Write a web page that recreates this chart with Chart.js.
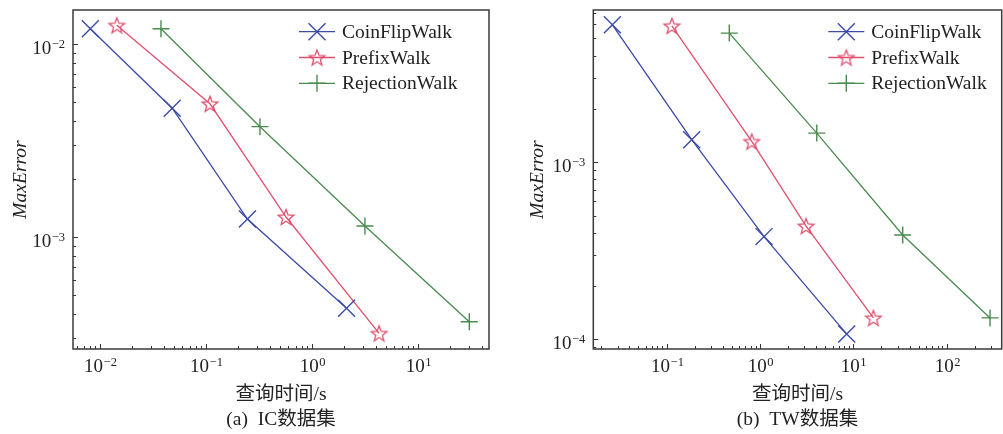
<!DOCTYPE html>
<html>
<head>
<meta charset="utf-8">
<script src="https://cdn.jsdelivr.net/npm/chart.js@4.4.0/dist/chart.umd.min.js"></script>
<style>
  body { margin: 0; background: #fff; }
  .panel { position: absolute; top: 0; height: 434px; }
</style>
</head>
<body>
<div class="panel" style="left:0;width:500px"><canvas id="chartIC"></canvas></div>
<div class="panel" style="left:517px;width:486px"><canvas id="chartTW"></canvas></div>
<script>
// series names
const seriesNames = ["CoinFlipWalk", "PrefixWalk", "RejectionWalk"];

// (a) IC dataset: query time (s) and max error
const icCoinTime = [0.0081, 0.048, 0.246, 2.12];
const icCoinErr = [0.0120, 0.00465, 0.00124, 0.000428];
const icPrefixTime = [0.0144, 0.109, 0.569, 4.3];
const icPrefixErr = [0.0125, 0.0049, 0.00127, 0.000317];
const icRejectTime = [0.0376, 0.323, 3.16, 30.5];
const icRejectErr = [0.0120, 0.00373, 0.00114, 0.000364];

// (b) TW dataset
const twCoinTime = [0.0263, 0.186, 1.107, 8.5];
const twCoinErr = [0.00597, 0.00134, 0.00038, 0.000107];
const twPrefixTime = [0.114, 0.817, 3.12, 16.4];
const twPrefixErr = [0.00589, 0.00131, 0.000436, 0.000132];
const twRejectTime = [0.47, 4.06, 33.8, 291];
const twRejectErr = [0.00536, 0.00146, 0.000388, 0.000132];

// axis ranges
const icXRange = [0.00556, 46.8];
const icYRange = [0.000263, 0.0150];
const twXRange = [0.01644, 388];
const twYRange = [0.0000881, 0.00724];

const SERIF = "'Liberation Serif', 'Times New Roman', 'Noto Sans CJK SC', serif";
const COLORS = ["#3a4ba8", "#e0506e", "#4a8a4e"];

function isPow10(v) {
  const l = Math.log10(v);
  return Math.abs(l - Math.round(l)) < 1e-9;
}

function logTicks(min, max) {
  const out = [];
  for (let e = Math.floor(Math.log10(min)); e <= Math.ceil(Math.log10(max)); e++) {
    for (let m = 1; m <= 9; m++) {
      const v = Number((m * Math.pow(10, e)).toPrecision(12));
      if (v >= min && v <= max) out.push(v);
    }
  }
  return out;
}

// "10" with raised exponent, like mathtext
function drawPowLabel(ctx, v, x, baseY, align) {
  const exp = String(Math.round(Math.log10(v))).replace("-", "\u2212");
  ctx.font = "19px " + SERIF;
  const wBase = ctx.measureText("10").width;
  ctx.font = "12.5px " + SERIF;
  const wExp = ctx.measureText(exp).width;
  const total = wBase + wExp + 0.5;
  const x0 = align === "right" ? x - total : x - total / 2;
  ctx.textAlign = "left";
  ctx.textBaseline = "alphabetic";
  ctx.font = "19px " + SERIF;
  ctx.fillText("10", x0, baseY);
  ctx.font = "12.5px " + SERIF;
  ctx.fillText(exp, x0 + wBase + 0.5, baseY - 6);
}

// star marker image (hollow)
function starImage(color) {
  const c = document.createElement("canvas");
  c.width = 22; c.height = 22;
  const ctx = c.getContext("2d");
  const R = 8.2, r = 3.5;
  ctx.beginPath();
  for (let i = 0; i < 10; i++) {
    const rad = (i % 2 === 0 ? R : r);
    const a = -Math.PI / 2 + i * Math.PI / 5;
    const px = 11 + rad * Math.cos(a), py = 11.8 + rad * Math.sin(a);
    i === 0 ? ctx.moveTo(px, py) : ctx.lineTo(px, py);
  }
  ctx.closePath();
  ctx.strokeStyle = color;
  ctx.lineWidth = 1.3;
  ctx.stroke();
  return c;
}

function makeDataset(i, xs, ys) {
  const styles = ["crossRot", starImage(COLORS[1]), "cross"];
  const radii = [12, 8, 8.5];
  return {
    label: seriesNames[i],
    data: xs.map((x, k) => ({ x, y: ys[k] })),
    borderColor: COLORS[i],
    backgroundColor: "transparent",
    borderWidth: 1.3,
    pointStyle: styles[i],
    pointRadius: radii[i],
    pointHoverRadius: radii[i],
    pointBorderWidth: 1.4,
    pointBorderColor: COLORS[i],
    pointBackgroundColor: "transparent",
    tension: 0,
    clip: false
  };
}

// frame + inward ticks + tick labels + legend with line and marker
const framePlugin = {
  id: "frameTicks",
  afterDraw(chart, args, opts) {
    const { ctx, chartArea: a } = chart;
    ctx.save();
    ctx.strokeStyle = "#333";
    ctx.fillStyle = "#222";
    ctx.lineWidth = 1;
    const xs = chart.scales.x, ys = chart.scales.y;
    logTicks(xs.min, xs.max).forEach(v => {
      const px = Math.round(xs.getPixelForValue(v)) + 0.5;
      const major = isPow10(v);
      ctx.beginPath(); ctx.moveTo(px, a.bottom); ctx.lineTo(px, a.bottom - (major ? 5 : 3)); ctx.stroke();
      if (major) drawPowLabel(ctx, v, px, a.bottom + 23, "center");
    });
    logTicks(ys.min, ys.max).forEach(v => {
      const py = Math.round(ys.getPixelForValue(v)) + 0.5;
      const major = isPow10(v);
      ctx.beginPath(); ctx.moveTo(a.left, py); ctx.lineTo(a.left + (major ? 5 : 3), py); ctx.stroke();
      if (major) drawPowLabel(ctx, v, a.left - 8, py + 9, "right");
    });
    ctx.strokeStyle = "#3a3a3a";
    ctx.lineWidth = 1.5;
    ctx.strokeRect(a.left, a.top, a.right - a.left, a.bottom - a.top);

    // legend
    const lx = a.left + opts.offsetX, ly = 31.7;
    chart.data.datasets.forEach((ds, i) => {
      const y = ly + i * 25.8;
      ctx.strokeStyle = ds.borderColor;
      ctx.lineWidth = ds.borderWidth;
      ctx.beginPath(); ctx.moveTo(lx, y); ctx.lineTo(lx + 36, y); ctx.stroke();
      ctx.lineWidth = ds.pointBorderWidth;
      Chart.helpers.drawPoint(ctx, { pointStyle: ds.pointStyle, radius: ds.pointRadius, rotation: 0, borderWidth: ds.pointBorderWidth }, lx + 18, y);
      ctx.fillStyle = "#222";
      ctx.font = "19.5px " + SERIF;
      ctx.textAlign = "left";
      ctx.textBaseline = "middle";
      ctx.fillText(ds.label, lx + 43, y + 1);
    });
    ctx.restore();
  }
};

function makeChart(id, datasets, xRange, yRange, caption, opt) {
  return new Chart(document.getElementById(id), {
    type: "line",
    data: { datasets },
    plugins: [framePlugin],
    options: {
      responsive: true,
      maintainAspectRatio: false,
      animation: false,
      layout: { autoPadding: false, padding: { top: 10, right: opt.padRight, left: 0, bottom: 0 } },
      plugins: {
        legend: { display: false },
        tooltip: { enabled: false },
        frameTicks: { offsetX: opt.legendX },
        title: {
          display: true,
          position: "bottom",
          fullSize: false,
          text: caption,
          color: "#222",
          font: { family: SERIF, size: 19.5, weight: "normal", lineHeight: 1.2 },
          padding: { top: 0, bottom: 2.6 }
        }
      },
      scales: {
        x: {
          type: "logarithmic",
          min: xRange[0], max: xRange[1],
          afterFit: s => { s.height = 59; s.paddingLeft = 0; s.paddingRight = 0; },
          grid: { display: false, drawTicks: false },
          border: { display: false },
          ticks: { display: false },
          title: {
            display: true, text: "查询时间/s", color: "#222",
            font: { family: SERIF, size: 19.5, lineHeight: 1.2 },
            padding: { top: 0, bottom: 1.3 }
          }
        },
        y: {
          type: "logarithmic",
          min: yRange[0], max: yRange[1],
          afterFit: s => { s.width = opt.yWidth; s.paddingTop = 0; s.paddingBottom = 0; },
          grid: { display: false, drawTicks: false },
          border: { display: false },
          ticks: { display: false },
          title: {
            display: true, text: "MaxError", color: "#222",
            font: { family: SERIF, size: 19.5, style: "italic", lineHeight: 1.2 },
            padding: { top: 9, bottom: 0 }
          }
        }
      }
    }
  });
}

makeChart("chartIC", [
  makeDataset(0, icCoinTime, icCoinErr),
  makeDataset(1, icPrefixTime, icPrefixErr),
  makeDataset(2, icRejectTime, icRejectErr)
], icXRange, icYRange, "(a)  IC数据集", { padRight: 11, yWidth: 73, legendX: 226 });

makeChart("chartTW", [
  makeDataset(0, twCoinTime, twCoinErr),
  makeDataset(1, twPrefixTime, twPrefixErr),
  makeDataset(2, twRejectTime, twRejectErr)
], twXRange, twYRange, "(b)  TW数据集", { padRight: 1.3, yWidth: 76.3, legendX: 235 });
</script>
</body>
</html>
